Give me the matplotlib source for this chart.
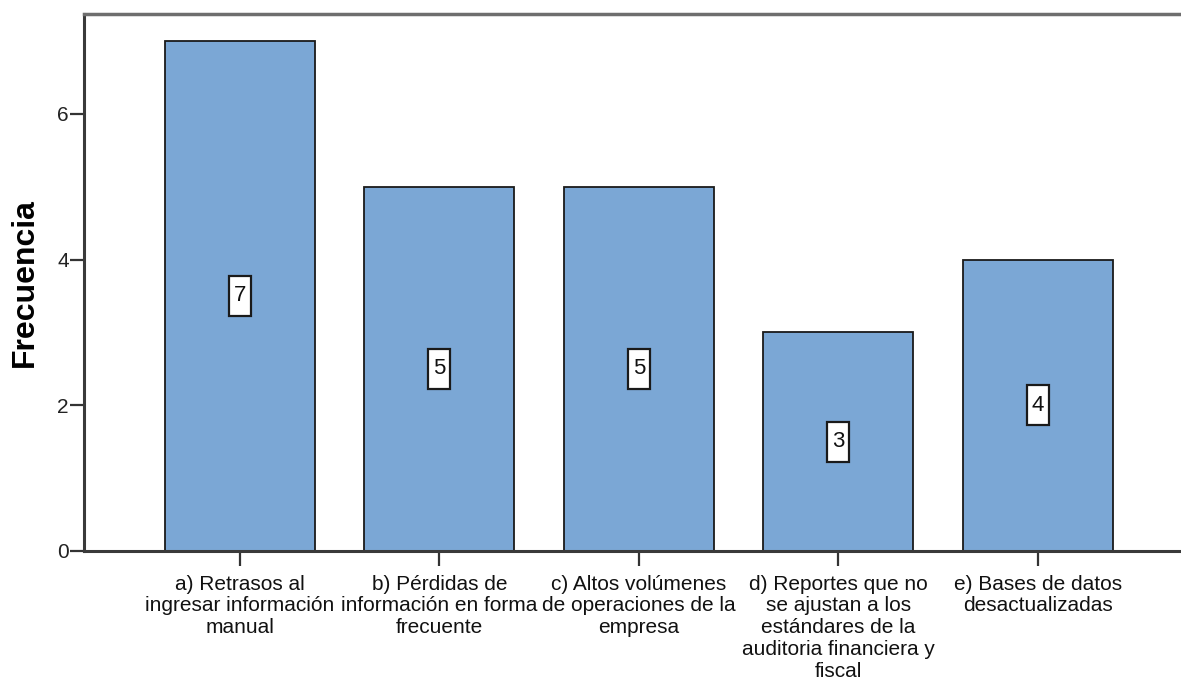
import matplotlib
matplotlib.use("Agg")
import matplotlib.pyplot as plt
from matplotlib.patches import Rectangle

categories = [
    "a) Retrasos al\ningresar información\nmanual",
    "b) Pérdidas de\ninformación en forma\nfrecuente",
    "c) Altos volúmenes\nde operaciones de la\nempresa",
    "d) Reportes que no\nse ajustan a los\nestándares de la\nauditoria financiera y\nfiscal",
    "e) Bases de datos\ndesactualizadas",
]
frecuencia = [7, 5, 5, 3, 4]
y_ticks = [0, 2, 4, 6]

plt.rcParams["font.family"] = ["Liberation Sans", "DejaVu Sans"]

W, H = 1181, 681
fig = plt.figure(figsize=(W / 100, H / 100), dpi=100)
ax = fig.add_axes([84 / W, 1 - 551 / H, 1 - 84 / W + 0.01, (551 - 14) / H])

x = list(range(len(categories)))
ax.bar(x, frecuencia, width=0.752, color="#7BA7D5", edgecolor="#1a1a1a",
       linewidth=1.3, zorder=2)

# white value boxes centred at half the bar height
box_w, box_h = 0.11, 0.55
for xi, v in zip(x, frecuencia):
    ax.add_patch(Rectangle((xi - box_w / 2, v / 2 - box_h / 2), box_w, box_h,
                           facecolor="white", edgecolor="#1a1a1a", linewidth=1.6, zorder=3))
    ax.text(xi, v / 2, str(v), ha="center", va="center", fontsize=16,
            color="#111111", zorder=4)

ax.set_xlim(-0.782, 4.778)
ax.set_ylim(0, 7.37)
ax.set_yticks(y_ticks)
ax.set_yticklabels([str(t) for t in y_ticks], fontsize=15, color="#222222")
ax.set_xticks(x)
ax.set_xticklabels(categories, fontsize=15, linespacing=1.19, color="#111111")

ax.tick_params(axis="y", length=10, width=1.6, color="#333333", pad=1)
ax.tick_params(axis="x", length=11, width=1.6, color="#333333", pad=6)

for side in ["left", "bottom"]:
    ax.spines[side].set_color("#3a3a3a")
    ax.spines[side].set_linewidth(2.2)
ax.spines["top"].set_color("#6e6e6e")
ax.spines["top"].set_linewidth(2.5)
ax.spines["right"].set_visible(False)

ax.set_ylabel("Frecuencia", fontsize=23, fontweight="bold", labelpad=12)

fig.savefig("out.png", dpi=100)
